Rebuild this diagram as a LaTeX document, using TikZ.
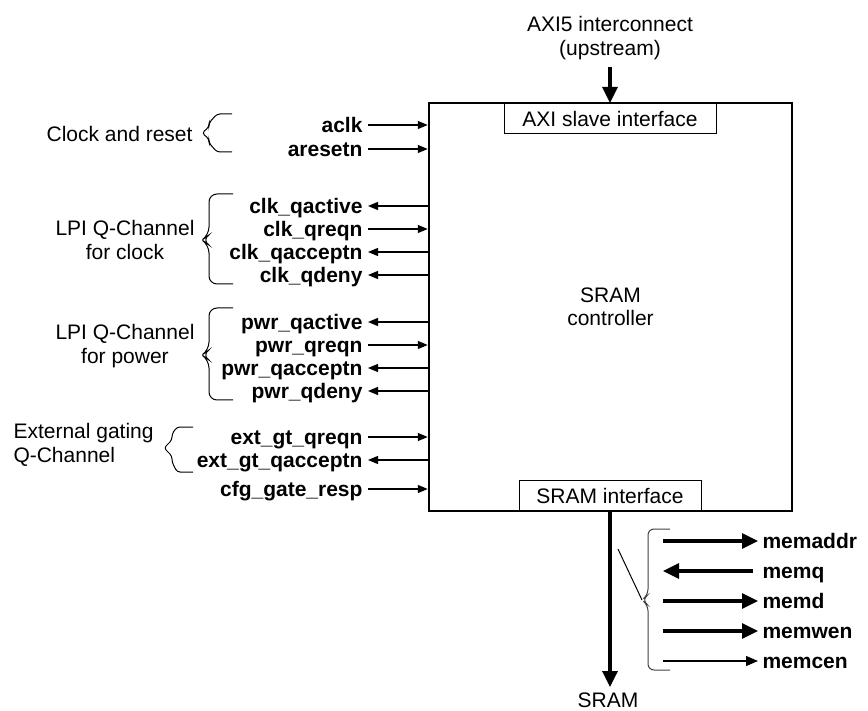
\documentclass[tikz,border=0pt]{standalone}
\usepackage{fontspec}
\setmainfont{Liberation Sans}
\usepackage{tikz}
\usetikzlibrary{arrows.meta,calc}

\newcommand{\figfont}{\fontsize{21}{23.5}\selectfont}

\tikzset{
  sig/.style={-{Triangle[length=10pt,width=8pt]}, line width=1.2pt},
  bus/.style={-{Triangle[length=16pt,width=15pt]}, line width=3.2pt},
  pin/.style={font=\figfont\bfseries, inner xsep=5pt, inner ysep=0pt, text height=15pt, text depth=0pt},
  subblock/.style={draw, line width=1pt, minimum height=30pt, inner sep=0pt},
  note/.style={align=center, inner sep=2pt}
}

\begin{document}
\begin{tikzpicture}[x=1pt,y=-1pt,font=\figfont,line width=1pt]
\useasboundingbox (0,0) rectangle (868,711);

% controller and its interfaces
\node[draw,line width=2.5pt,minimum width=363pt,minimum height=408pt,align=center] (ctrl) at (610.5,307) {SRAM\\controller};
\node[subblock,minimum width=212pt,anchor=north] (axi) at (610,103) {AXI slave interface};
\node[subblock,minimum width=182pt,anchor=south] (sramif) at (610,511) {SRAM interface};

\node[note] (upstream) at (610,38) {AXI5 interconnect\\(upstream)};
\draw[bus,shorten <=5pt] (upstream.south) -- (axi.north);

\node[inner sep=5pt] (sram) at (608,700) {SRAM};
\draw[bus] (sramif.south) -- (sramif.south |- sram.north);

% clock and reset
\node[note,anchor=east] (clkrst) at (195,134) {Clock and reset};
\draw[rounded corners=3pt] (232,114) -- (217,114) -- (209,123) -- (209,127) -- (202,133) -- (209,139) -- (209,143) -- (217,152) -- (232,152);
\node[pin,anchor=east] (aclk) at (368,125) {aclk};
\draw[sig] (aclk.east) -- (aclk.east -| ctrl.west);
\node[pin,anchor=east] (aresetn) at (368,149) {aresetn};
\draw[sig] (aresetn.east) -- (aresetn.east -| ctrl.west);

% Q-Channel for clock
\node[note] (lpiclk) at (125,240) {LPI Q-Channel\\for clock};
\draw[rounded corners=8pt] (233,194) -- (209,194) -- (209,235) -- (202,240) -- (209,245) -- (209,284) -- (233,284);
\node[pin,anchor=east] (clkqactive) at (368,206) {clk\_qactive};
\draw[sig] (clkqactive.east -| ctrl.west) -- (clkqactive.east);
\node[pin,anchor=east] (clkqreqn) at (368,229) {clk\_qreqn};
\draw[sig] (clkqreqn.east) -- (clkqreqn.east -| ctrl.west);
\node[pin,anchor=east] (clkqacceptn) at (368,252) {clk\_qacceptn};
\draw[sig] (clkqacceptn.east -| ctrl.west) -- (clkqacceptn.east);
\node[pin,anchor=east] (clkqdeny) at (368,275) {clk\_qdeny};
\draw[sig] (clkqdeny.east -| ctrl.west) -- (clkqdeny.east);

% Q-Channel for power
\node[note] (lpipwr) at (125,346) {LPI Q-Channel\\for power};
\draw[rounded corners=8pt] (233,308) -- (209,308) -- (209,350) -- (202,355) -- (209,360) -- (209,400) -- (233,400);
\node[pin,anchor=east] (pwrqactive) at (368,322) {pwr\_qactive};
\draw[sig] (pwrqactive.east -| ctrl.west) -- (pwrqactive.east);
\node[pin,anchor=east] (pwrqreqn) at (368,345) {pwr\_qreqn};
\draw[sig] (pwrqreqn.east) -- (pwrqreqn.east -| ctrl.west);
\node[pin,anchor=east] (pwrqacceptn) at (368,368) {pwr\_qacceptn};
\draw[sig] (pwrqacceptn.east -| ctrl.west) -- (pwrqacceptn.east);
\node[pin,anchor=east] (pwrqdeny) at (368,391) {pwr\_qdeny};
\draw[sig] (pwrqdeny.east -| ctrl.west) -- (pwrqdeny.east);

% external gating
\node[note,align=left,anchor=west] (extgate) at (11,445) {External gating\\Q-Channel};
\draw[rounded corners=3pt] (193,427) -- (177,427) -- (172,434) -- (172,440) -- (164,448) -- (172,456) -- (172,462) -- (177,472) -- (193,472);
\node[pin,anchor=east] (extqreqn) at (368,437) {ext\_gt\_qreqn};
\draw[sig] (extqreqn.east) -- (extqreqn.east -| ctrl.west);
\node[pin,anchor=east] (extqacceptn) at (368,460) {ext\_gt\_qacceptn};
\draw[sig] (extqacceptn.east -| ctrl.west) -- (extqacceptn.east);
\node[pin,anchor=east] (cfgresp) at (368,489) {cfg\_gate\_resp};
\draw[sig] (cfgresp.east) -- (cfgresp.east -| ctrl.west);

% memory signals
\coordinate (busx) at (663,0);
\draw[black!75,rounded corners=6pt] (670,529) -- (648,529) -- (648,595) -- (642,600) -- (648,605) -- (648,670) -- (670,670);
\draw (618,549) -- (642,600);
\node[pin,anchor=west,inner xsep=4pt] (memaddr) at (758,541) {memaddr};
\draw[bus] (memaddr.west -| busx) -- (memaddr.west);
\node[pin,anchor=west,inner xsep=4pt] (memq) at (758,571) {memq};
\draw[bus,shorten <=5pt] (memq.west) -- (memq.west -| busx);
\node[pin,anchor=west,inner xsep=4pt] (memd) at (758,601) {memd};
\draw[bus] (memd.west -| busx) -- (memd.west);
\node[pin,anchor=west,inner xsep=4pt] (memwen) at (758,631) {memwen};
\draw[bus] (memwen.west -| busx) -- (memwen.west);
\node[pin,anchor=west,inner xsep=4pt] (memcen) at (758,661) {memcen};
\draw[-{Triangle[length=12pt,width=10pt]},line width=1.2pt] (memcen.west -| busx) -- (memcen.west);
\end{tikzpicture}
\end{document}
